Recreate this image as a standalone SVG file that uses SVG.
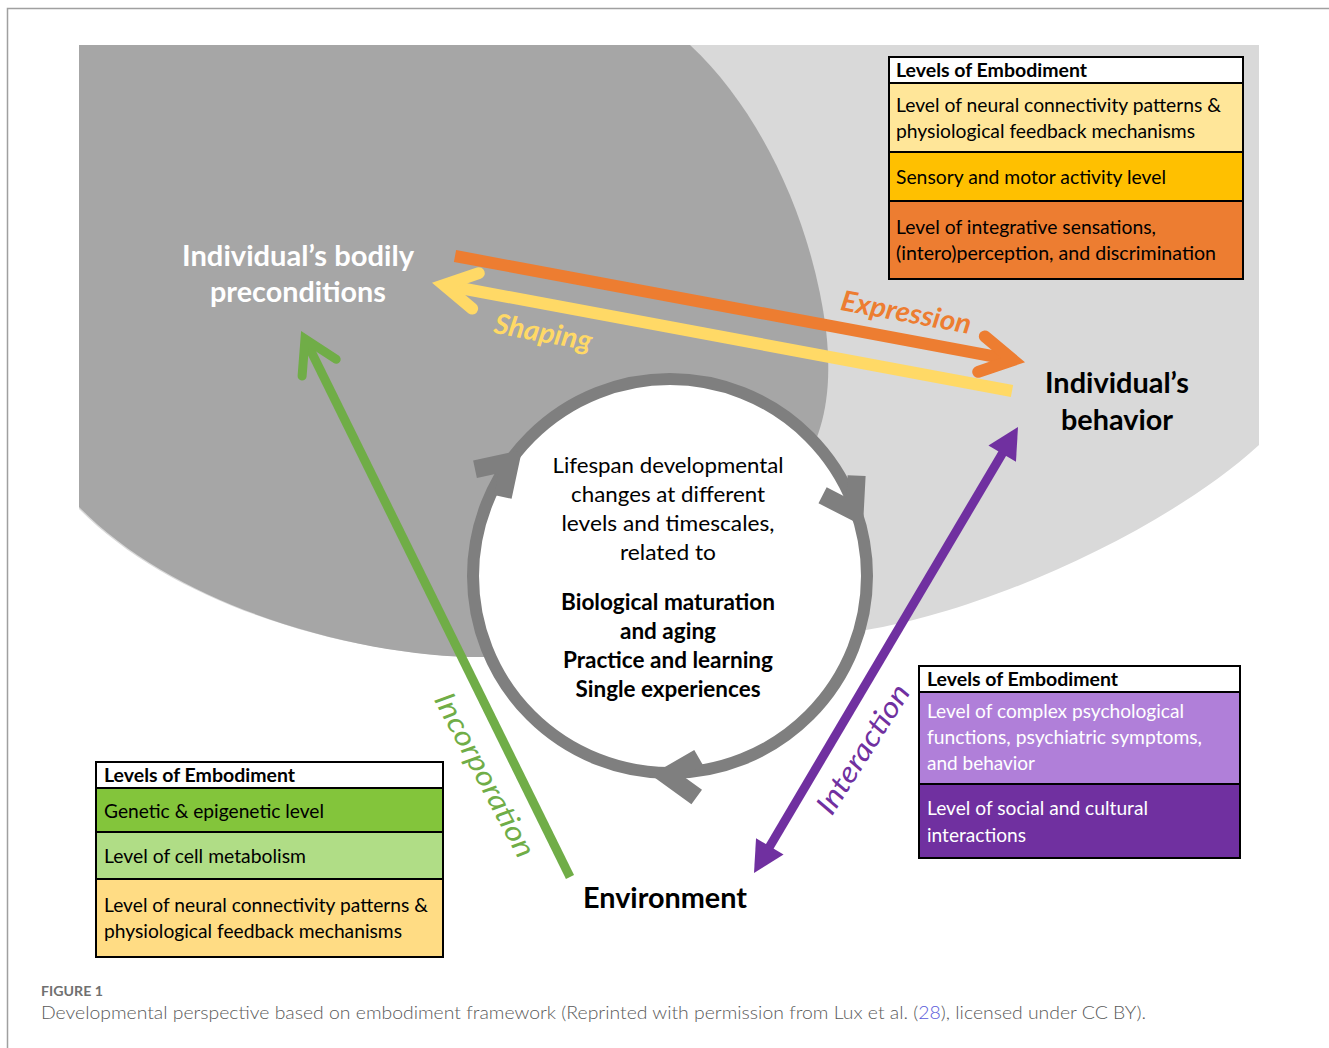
<svg xmlns="http://www.w3.org/2000/svg" width="1329" height="1048" viewBox="0 0 1329 1048">
  <defs>
    <style>
      text { font-family: Lato, "Liberation Sans", sans-serif; }
      marker { overflow: visible; }
      .big { font-size: 28px; font-weight: bold; text-anchor: middle; }
      .mid { font-size: 22px; text-anchor: middle; fill: #000; }
      .midb { font-size: 22.5px; font-weight: bold; text-anchor: middle; fill: #000; }
      .lh { font-size: 18.5px; font-weight: bold; fill: #000; }
      .lt { font-size: 19px; fill: #000; }
      .lw { font-size: 19px; fill: #fff; }
      .cell { stroke: #000; stroke-width: 2; }
      .conn { fill: none; stroke-linecap: butt; }
      .tag { font-style: italic; text-anchor: middle; }
    </style>
    <marker id="headOrange" markerUnits="userSpaceOnUse" orient="auto" overflow="visible" markerWidth="1" markerHeight="1">
      <path d="M-32,-18 L0,0 L-32,18" fill="none" stroke="#ed7d31" stroke-width="12" stroke-linecap="round" stroke-linejoin="miter"/>
    </marker>
    <marker id="headYellow" markerUnits="userSpaceOnUse" orient="auto" overflow="visible" markerWidth="1" markerHeight="1">
      <path d="M-32,-18 L0,0 L-32,18" fill="none" stroke="#ffd966" stroke-width="12" stroke-linecap="round" stroke-linejoin="miter"/>
    </marker>
    <marker id="headGreen" markerUnits="userSpaceOnUse" orient="auto" overflow="visible" markerWidth="1" markerHeight="1">
      <path d="M-32,-19 L0,0 L-32,19" fill="none" stroke="#70ad47" stroke-width="9" stroke-linecap="round" stroke-linejoin="miter"/>
    </marker>
    <marker id="headPurple" markerUnits="userSpaceOnUse" orient="auto-start-reverse" overflow="visible" markerWidth="1" markerHeight="1">
      <path d="M20,0 L-11,-16 L-11,16 Z" fill="#7030a0"/>
    </marker>
    <!-- arrowhead on the lifecycle ring, tip at origin pointing along +x -->
    <polygon id="ringHead" points="0,0 -41.9,-27.2 -51.7,-12.1 -33,0 -51.7,12.1 -41.9,27.2" fill="#7f7f7f"/>
  </defs>

  <!-- page -->
  <rect x="0" y="0" width="1329" height="1048" fill="#fff"/>
  <path d="M7.5,1048 V8.5 H1329" fill="none" stroke="#a0a0a0" stroke-width="1.5"/>

  <!-- backdrop areas -->
  <g id="backdrop">
    <path d="M79,45 H1259 V445 C1160,535 980,612 866,630 L670,576 L485,657 C365,658 180,611 79,509 Z" fill="#d9d9d9"/>
    <path d="M79,45 H690 C760,110 812,220 826,330 C834,400 820,440 800,470 L670,576 L485,657 C365,658 180,610 79,507 Z" fill="#a6a6a6"/>
  </g>

  <!-- central lifecycle ring -->
  <g id="node-lifespan">
    <circle cx="670" cy="576" r="197" fill="#fff" stroke="#7f7f7f" stroke-width="12"/>
    <use href="#ringHead" transform="translate(522,450) rotate(-45)"/>
    <use href="#ringHead" transform="translate(863,526) rotate(60)"/>
    <use href="#ringHead" transform="translate(651,775) rotate(183)"/>
    <text class="mid" x="668" y="473" textLength="231" lengthAdjust="spacingAndGlyphs">Lifespan developmental</text>
    <text class="mid" x="668" y="502" textLength="194" lengthAdjust="spacingAndGlyphs">changes at different</text>
    <text class="mid" x="668" y="531" textLength="213" lengthAdjust="spacingAndGlyphs">levels and timescales,</text>
    <text class="mid" x="668" y="560" textLength="96" lengthAdjust="spacingAndGlyphs">related to</text>
    <text class="midb" x="668" y="610" textLength="214" lengthAdjust="spacingAndGlyphs">Biological maturation</text>
    <text class="midb" x="668" y="639" textLength="96" lengthAdjust="spacingAndGlyphs">and aging</text>
    <text class="midb" x="668" y="668" textLength="210" lengthAdjust="spacingAndGlyphs">Practice and learning</text>
    <text class="midb" x="668" y="697" textLength="185" lengthAdjust="spacingAndGlyphs">Single experiences</text>
  </g>

  <!-- connectors -->
  <g id="connectors">
    <path class="conn" d="M455,256 L1013,360" stroke="#ed7d31" stroke-width="12" marker-end="url(#headOrange)"/>
    <path class="conn" d="M1012,391 L444,285" stroke="#ffd966" stroke-width="12" marker-end="url(#headYellow)"/>
    <path class="conn" d="M570,877 L305,339" stroke="#70ad47" stroke-width="9" marker-end="url(#headGreen)"/>
    <path class="conn" d="M764.2,855.8 L1007.8,444.2" stroke="#7030a0" stroke-width="9" marker-start="url(#headPurple)" marker-end="url(#headPurple)"/>
    <text class="tag" transform="translate(906,313) rotate(10.5)" y="9" font-size="28" font-weight="bold" fill="#ed7d31" textLength="132" lengthAdjust="spacingAndGlyphs">Expression</text>
    <text class="tag" transform="translate(543,333) rotate(10.5)" y="9" font-size="28" font-weight="bold" fill="#ffd966" textLength="99" lengthAdjust="spacingAndGlyphs">Shaping</text>
    <text class="tag" transform="translate(485,775) rotate(62)" y="10" font-size="29" fill="#70ad47" textLength="182" lengthAdjust="spacingAndGlyphs">Incorporation</text>
    <text class="tag" transform="translate(863,749) rotate(-57.5)" y="10" font-size="29" fill="#7030a0" textLength="148" lengthAdjust="spacingAndGlyphs">Interaction</text>
  </g>

  <!-- main nodes -->
  <g id="node-bodily">
    <text class="big" x="298" y="266" fill="#fff" textLength="232" lengthAdjust="spacingAndGlyphs">Individual’s bodily</text>
    <text class="big" x="298" y="302" fill="#fff" textLength="176" lengthAdjust="spacingAndGlyphs">preconditions</text>
  </g>
  <g id="node-behavior">
    <text class="big" x="1117" y="393" fill="#000" textLength="144" lengthAdjust="spacingAndGlyphs">Individual’s</text>
    <text class="big" x="1117" y="430" fill="#000" textLength="112" lengthAdjust="spacingAndGlyphs">behavior</text>
  </g>
  <g id="node-environment">
    <text class="big" x="665" y="908" fill="#000" textLength="164" lengthAdjust="spacingAndGlyphs">Environment</text>
  </g>

  <!-- levels of embodiment tables -->
  <g id="legend-behavior-levels">
    <rect class="cell" x="889" y="57" width="354" height="26" fill="#fff"/>
    <rect class="cell" x="889" y="83" width="354" height="69" fill="#ffe699"/>
    <rect class="cell" x="889" y="152" width="354" height="49" fill="#ffc000"/>
    <rect class="cell" x="889" y="201" width="354" height="78" fill="#ed7d31"/>
    <text class="lh" x="896" y="77" textLength="191" lengthAdjust="spacingAndGlyphs">Levels of Embodiment</text>
    <text class="lt" x="896" y="112" textLength="325" lengthAdjust="spacingAndGlyphs">Level of neural connectivity patterns &amp;</text>
    <text class="lt" x="896" y="138" textLength="299" lengthAdjust="spacingAndGlyphs">physiological feedback mechanisms</text>
    <text class="lt" x="896" y="184" textLength="270" lengthAdjust="spacingAndGlyphs">Sensory and motor activity level</text>
    <text class="lt" x="896" y="234" textLength="260" lengthAdjust="spacingAndGlyphs">Level of integrative sensations,</text>
    <text class="lt" x="896" y="260" textLength="320" lengthAdjust="spacingAndGlyphs">(intero)perception, and discrimination</text>
  </g>

  <g id="legend-body-levels">
    <rect class="cell" x="96" y="762" width="347" height="26" fill="#fff"/>
    <rect class="cell" x="96" y="788" width="347" height="44" fill="#83c53b"/>
    <rect class="cell" x="96" y="832" width="347" height="47" fill="#b0dd86"/>
    <rect class="cell" x="96" y="879" width="347" height="78" fill="#ffdc84"/>
    <text class="lh" x="104" y="782" textLength="191" lengthAdjust="spacingAndGlyphs">Levels of Embodiment</text>
    <text class="lt" x="104" y="818" textLength="220" lengthAdjust="spacingAndGlyphs">Genetic &amp; epigenetic level</text>
    <text class="lt" x="104" y="863" textLength="202" lengthAdjust="spacingAndGlyphs">Level of cell metabolism</text>
    <text class="lt" x="104" y="912" textLength="324" lengthAdjust="spacingAndGlyphs">Level of neural connectivity patterns &amp;</text>
    <text class="lt" x="104" y="938" textLength="298" lengthAdjust="spacingAndGlyphs">physiological feedback mechanisms</text>
  </g>

  <g id="legend-social-levels">
    <rect class="cell" x="919" y="666" width="321" height="26" fill="#fff"/>
    <rect class="cell" x="919" y="692" width="321" height="92" fill="#b07fd9"/>
    <rect class="cell" x="919" y="784" width="321" height="74" fill="#7030a0"/>
    <text class="lh" x="927" y="686" textLength="191" lengthAdjust="spacingAndGlyphs">Levels of Embodiment</text>
    <text class="lw" x="927" y="718" textLength="257" lengthAdjust="spacingAndGlyphs">Level of complex psychological</text>
    <text class="lw" x="927" y="744" textLength="275" lengthAdjust="spacingAndGlyphs">functions, psychiatric symptoms,</text>
    <text class="lw" x="927" y="770" textLength="108" lengthAdjust="spacingAndGlyphs">and behavior</text>
    <text class="lw" x="927" y="815" textLength="221" lengthAdjust="spacingAndGlyphs">Level of social and cultural</text>
    <text class="lw" x="927" y="842" textLength="99" lengthAdjust="spacingAndGlyphs">interactions</text>
  </g>

  <!-- caption -->
  <g id="caption">
    <text x="41" y="996" font-size="13" font-weight="bold" fill="#707070" textLength="62" lengthAdjust="spacingAndGlyphs">FIGURE 1</text>
    <text x="41" y="1019" font-size="17.5" font-weight="300" fill="#5a5a5a" textLength="1105" lengthAdjust="spacingAndGlyphs">Developmental perspective based on embodiment framework (Reprinted with permission from Lux et al. (<tspan fill="#5b5bdb">28</tspan>), licensed under CC BY).</text>
  </g>
</svg>
